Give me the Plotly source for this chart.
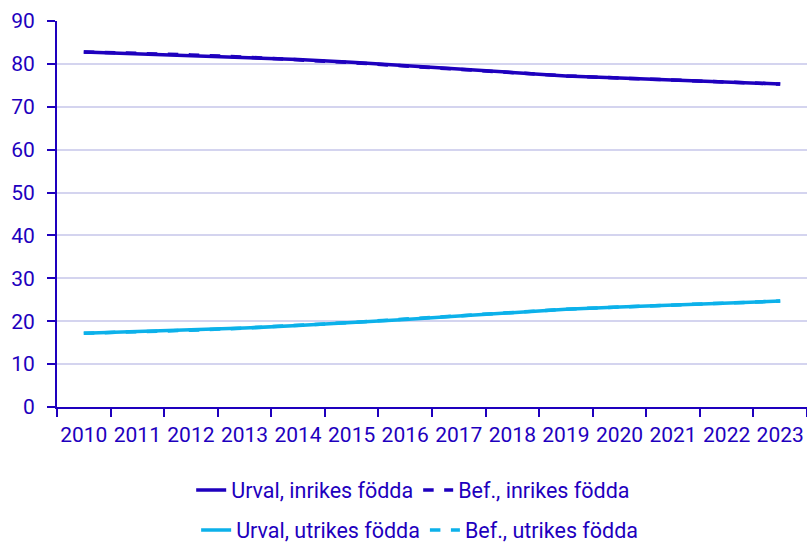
import plotly.graph_objects as go

years = [str(y) for y in range(2010, 2024)]

urval_inrikes = [82.8, 82.4, 82.0, 81.6, 81.0, 80.4, 79.6, 78.8, 77.9, 77.2, 76.7, 76.2, 75.9, 75.3]
bef_inrikes = [82.8, 82.5, 82.1, 81.6, 81.0, 80.3, 79.5, 78.7, 77.9, 77.2, 76.7, 76.3, 75.8, 75.3]
urval_utrikes = [17.2, 17.6, 18.0, 18.4, 19.0, 19.6, 20.4, 21.2, 22.1, 22.8, 23.3, 23.8, 24.1, 24.7]
bef_utrikes = [17.2, 17.5, 17.9, 18.4, 19.0, 19.7, 20.5, 21.3, 22.1, 22.8, 23.3, 23.7, 24.2, 24.7]

DARK = '#1e00be'
LIGHT = '#0cb1ea'
GRID = '#d4d4ef'

fig = go.Figure()
fig.add_trace(go.Scatter(x=years, y=urval_inrikes, mode='lines', name='Urval, inrikes födda',
                         line=dict(color=DARK, width=3.5), legend='legend'))
fig.add_trace(go.Scatter(x=years, y=bef_inrikes, mode='lines', name='Bef., inrikes födda',
                         line=dict(color=DARK, width=3.5, dash='dash'), legend='legend'))
fig.add_trace(go.Scatter(x=years, y=urval_utrikes, mode='lines', name='Urval, utrikes födda',
                         line=dict(color=LIGHT, width=3.5), legend='legend2'))
fig.add_trace(go.Scatter(x=years, y=bef_utrikes, mode='lines', name='Bef., utrikes födda',
                         line=dict(color=LIGHT, width=3.5, dash='dash'), legend='legend2'))

leg = dict(orientation='h', xanchor='center', xref='container', yref='container',
           yanchor='middle', font=dict(size=21.5, color=DARK), bgcolor='rgba(0,0,0,0)',
           itemwidth=30)

fig.update_layout(
    width=807, height=542,
    margin=dict(l=57, r=0, t=21, b=135),
    paper_bgcolor='white', plot_bgcolor='white',
    font=dict(family='Roboto', size=21, color=DARK),
    legend=dict(leg, x=0.512, y=0.096),
    legend2=dict(leg, x=0.52, y=0.022),
    xaxis=dict(type='category', tickson='boundaries', ticks='outside', ticklen=8,
               tickwidth=2, tickcolor=DARK, showline=True, linecolor=DARK, linewidth=2,
               showgrid=False, range=[-0.5, 13.5], automargin=False, tickangle=0,
               ticklabelstandoff=8, tickfont=dict(size=21, color=DARK)),
    yaxis=dict(range=[0, 90], dtick=10, ticks='outside', ticklen=8, tickwidth=2,
               tickcolor=DARK, showline=True, linecolor=DARK, linewidth=2, automargin=False,
               ticklabelstandoff=8, gridcolor=GRID, gridwidth=2, zeroline=False,
               tickfont=dict(size=21, color=DARK)),
)

# drop the default page margin so the figure fills the window exactly
fig.write_html("out.html", config={'displayModeBar': False},
               post_script="document.body.style.margin='0';")
